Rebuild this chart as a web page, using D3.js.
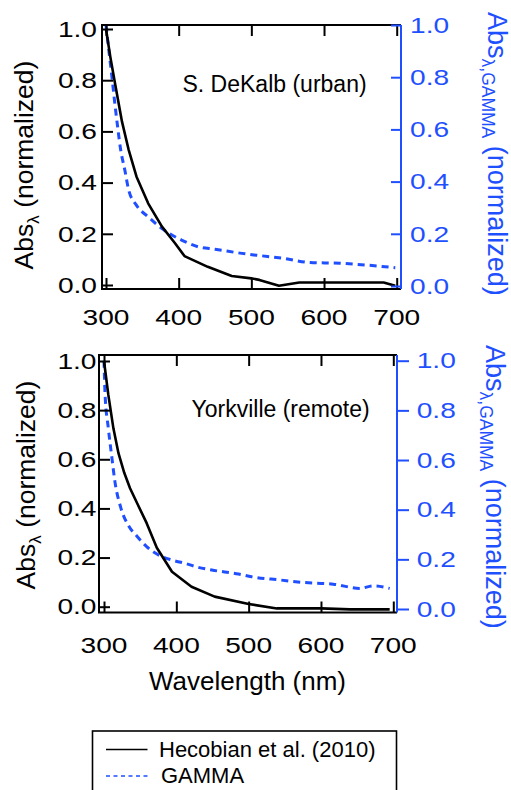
<!DOCTYPE html>
<html><head><meta charset="utf-8">
<script src="https://cdn.jsdelivr.net/npm/d3@7"></script>
<style>
body{margin:0;background:#fff}
svg{display:block}
text{font-family:"Liberation Sans",Arial,Helvetica,sans-serif}
</style>
</head><body>
<svg id="c" width="511" height="790"></svg>
<script>
// ---------- data ----------
const wlTicks = [300, 400, 500, 600, 700];
const absTicks = [0, 0.2, 0.4, 0.6, 0.8, 1.0];
const seriesNames = ["Hecobian et al. (2010)", "GAMMA"];
const siteLabels = ["S. DeKalb (urban)", "Yorkville (remote)"];

// S. DeKalb (urban)
const dekalbHecWl  = [300, 306, 312, 322, 331, 342, 358, 377, 395, 408, 440, 473, 500, 511, 538, 566, 600, 682, 698];
const dekalbHecAbs = [1.0, 0.89, 0.794, 0.638, 0.53, 0.423, 0.319, 0.228, 0.163, 0.113, 0.071, 0.035, 0.026, 0.02, -0.003, 0.01, 0.01, 0.01, -0.003];
const dekalbGamWl  = [300, 304, 308, 312, 316, 320, 326, 331, 342, 358, 377, 404, 427, 450, 487, 507, 544, 581, 622, 659, 698];
const dekalbGamAbs = [1.0, 0.9, 0.805, 0.703, 0.61, 0.525, 0.443, 0.37, 0.309, 0.265, 0.22, 0.176, 0.15, 0.141, 0.125, 0.118, 0.106, 0.09, 0.087, 0.08, 0.07];

// Yorkville (remote)
const yorkHecWl  = [300, 306, 313, 320, 328, 336, 346, 359, 373, 394, 421, 453, 500, 539, 600, 640, 695];
const yorkHecAbs = [1.0, 0.862, 0.726, 0.625, 0.545, 0.482, 0.42, 0.34, 0.24, 0.142, 0.081, 0.041, 0.011, -0.007, -0.007, -0.011, -0.011];
const yorkGamWl  = [300, 301.5, 306, 311, 315, 323, 334, 345, 359, 377, 394, 412, 430, 449, 486, 504, 543, 575, 617, 654, 672, 695];
const yorkGamAbs = [1.0, 0.862, 0.728, 0.607, 0.515, 0.41, 0.335, 0.295, 0.251, 0.215, 0.197, 0.184, 0.168, 0.157, 0.141, 0.13, 0.117, 0.107, 0.1, 0.083, 0.093, 0.083];

// ---------- styles / layout ----------
const BLUE = "#1f4fff";
const BLUE_TXT = "#1f50ff";
const TICK_FS = 22.5, TICK_SX = 1.25;

const panels = [
  { box:{l:102, r:401, t:25, b:289}, xr:[106, 396.7], yl:[285, 29], yr:[286, 25], rightOut:false,
    site: siteLabels[0], siteX:182.5, siteY:92, xLabY:325, lPad:5, rPad:9,
    leftLab:{x:33, y:165}, rightLab:{x:488, y:12},
    hec:{wl:dekalbHecWl, v:dekalbHecAbs}, gam:{wl:dekalbGamWl, v:dekalbGamAbs} },
  { box:{l:99, r:397, t:355, b:612.5}, xr:[104, 393.3], yl:[606.7, 361], yr:[609, 360.7], rightOut:true,
    site: siteLabels[1], siteX:191.5, siteY:417, xLabY:653, lPad:2.5, rPad:7.7,
    leftLab:{x:35, y:485}, rightLab:{x:486, y:345},
    hec:{wl:yorkHecWl, v:yorkHecAbs}, gam:{wl:yorkGamWl, v:yorkGamAbs} }
];

const svg = d3.select("#c");

function stretchText(sel, sx){
  sel.each(function(){
    const t = d3.select(this);
    const x = +t.attr("x") || 0;
    t.attr("x", 0).attr("transform", `translate(${x},0) scale(${sx},1)`);
  });
}

panels.forEach(p => {
  const x = d3.scaleLinear().domain([300, 700]).range(p.xr);
  const yL = d3.scaleLinear().domain([0, 1]).range(p.yl);
  const yR = d3.scaleLinear().domain([0, 1]).range(p.yr);
  const g = svg.append("g");

  // curves
  const hecPts = p.hec.wl.map((w,i)=>[w, p.hec.v[i]]);
  const gamPts = p.gam.wl.map((w,i)=>[w, p.gam.v[i]]);
  g.append("path").datum(gamPts)
    .attr("d", d3.line().x(d=>x(d[0])).y(d=>yR(d[1])).curve(d3.curveMonotoneX))
    .attr("fill","none").attr("stroke",BLUE).attr("stroke-width",3)
    .attr("stroke-dasharray","7,5");
  g.append("path").datum(hecPts)
    .attr("d", d3.line().x(d=>x(d[0])).y(d=>yL(d[1])))
    .attr("fill","none").attr("stroke","#000").attr("stroke-width",2.6)
    .attr("stroke-linejoin","round");

  // frame (left/top/bottom black)
  g.append("path")
    .attr("d", `M${p.box.r},${p.box.t}H${p.box.l}V${p.box.b}H${p.box.r}`)
    .attr("fill","none").attr("stroke","#000").attr("stroke-width",2);

  // x ticks (inward top and bottom)
  const axB = d3.axisBottom(x).tickValues(wlTicks).tickSize(-11).tickFormat("");
  const axT = d3.axisTop(x).tickValues(wlTicks).tickSize(-11).tickFormat("");
  [ [axB, p.box.b], [axT, p.box.t] ].forEach(([ax, yy]) => {
    const a = g.append("g").attr("transform",`translate(0,${yy})`).call(ax);
    a.select(".domain").remove();
    a.selectAll("line").attr("stroke","#000").attr("stroke-width",2);
  });
  // x tick labels
  g.append("g").selectAll("text").data(wlTicks).join("text")
    .attr("x", d=>x(d)).attr("y", p.xLabY).attr("text-anchor","middle")
    .attr("font-size", TICK_FS).attr("fill","#000").text(d=>d)
    .call(s => stretchText(s, TICK_SX));

  // left axis
  const aL = g.append("g").attr("transform",`translate(${p.box.l},0)`)
    .call(d3.axisLeft(yL).tickValues(absTicks).tickSize(-11).tickPadding(p.lPad).tickFormat(d3.format(".1f")));
  aL.select(".domain").remove();
  aL.selectAll("line").attr("stroke","#000").attr("stroke-width",2);
  aL.selectAll("text").attr("font-size",TICK_FS).attr("fill","#000").attr("font-family",null)
    .call(s => stretchText(s, TICK_SX));

  // right axis (blue)
  const aR = g.append("g").attr("transform",`translate(${p.box.r},0)`)
    .call(d3.axisRight(yR).tickValues(absTicks).tickSizeInner(p.rightOut ? 12 : -10).tickSizeOuter(0)
      .tickPadding(p.rPad).tickFormat(d3.format(".1f")));
  aR.select(".domain").attr("stroke",BLUE).attr("stroke-width",2)
    .attr("d", `M0,${p.box.t}V${p.box.b}`);
  aR.selectAll("line").attr("stroke",BLUE).attr("stroke-width",2);
  aR.selectAll("text").attr("font-size",TICK_FS).attr("fill",BLUE_TXT).attr("font-family",null)
    .call(s => stretchText(s, TICK_SX));

  // site label
  g.append("text").attr("x",p.siteX).attr("y",p.siteY).attr("font-size",23).attr("fill","#000").text(p.site);

  // left axis title
  const tl = g.append("text")
    .attr("transform",`translate(${p.leftLab.x},${p.leftLab.y}) rotate(-90)`)
    .attr("text-anchor","middle").attr("font-size",26.5).attr("fill","#000");
  tl.append("tspan").text("Abs");
  tl.append("tspan").attr("font-size",17).attr("dy",6).text("λ");
  tl.append("tspan").attr("dy",-6).text(" (normalized)");

  // right axis title
  const tr = g.append("text")
    .attr("transform",`translate(${p.rightLab.x},${p.rightLab.y}) rotate(90)`)
    .attr("text-anchor","start").attr("font-size",27).attr("fill",BLUE_TXT);
  tr.append("tspan").text("Abs");
  tr.append("tspan").attr("font-size",17.5).attr("dy",6).text("λ,GAMMA");
  tr.append("tspan").attr("dy",-6).text(" (normalized)");
});

// x axis title
svg.append("text").attr("x",247.5).attr("y",690).attr("text-anchor","middle")
  .attr("font-size",26).attr("fill","#000").text("Wavelength (nm)");

// legend
const lg = svg.append("g");
lg.append("rect").attr("x",92.5).attr("y",731).attr("width",304).attr("height",80)
  .attr("fill","#fff").attr("stroke","#000").attr("stroke-width",1.6);
const legY = [749.5, 776];
const legTxtY = [757, 783];
const legTxtX = [159, 161];
seriesNames.forEach((name,i)=>{
  lg.append("line").attr("x1",106).attr("x2",147.5).attr("y1",legY[i]).attr("y2",legY[i])
    .attr("stroke", i===0 ? "#000" : BLUE).attr("stroke-width", 1.6)
    .attr("stroke-dasharray", i===0 ? null : "4,3.5");
  lg.append("text").attr("x",legTxtX[i]).attr("y",legTxtY[i]).attr("font-size",22).attr("fill","#000").text(name);
});
</script>
</body></html>
